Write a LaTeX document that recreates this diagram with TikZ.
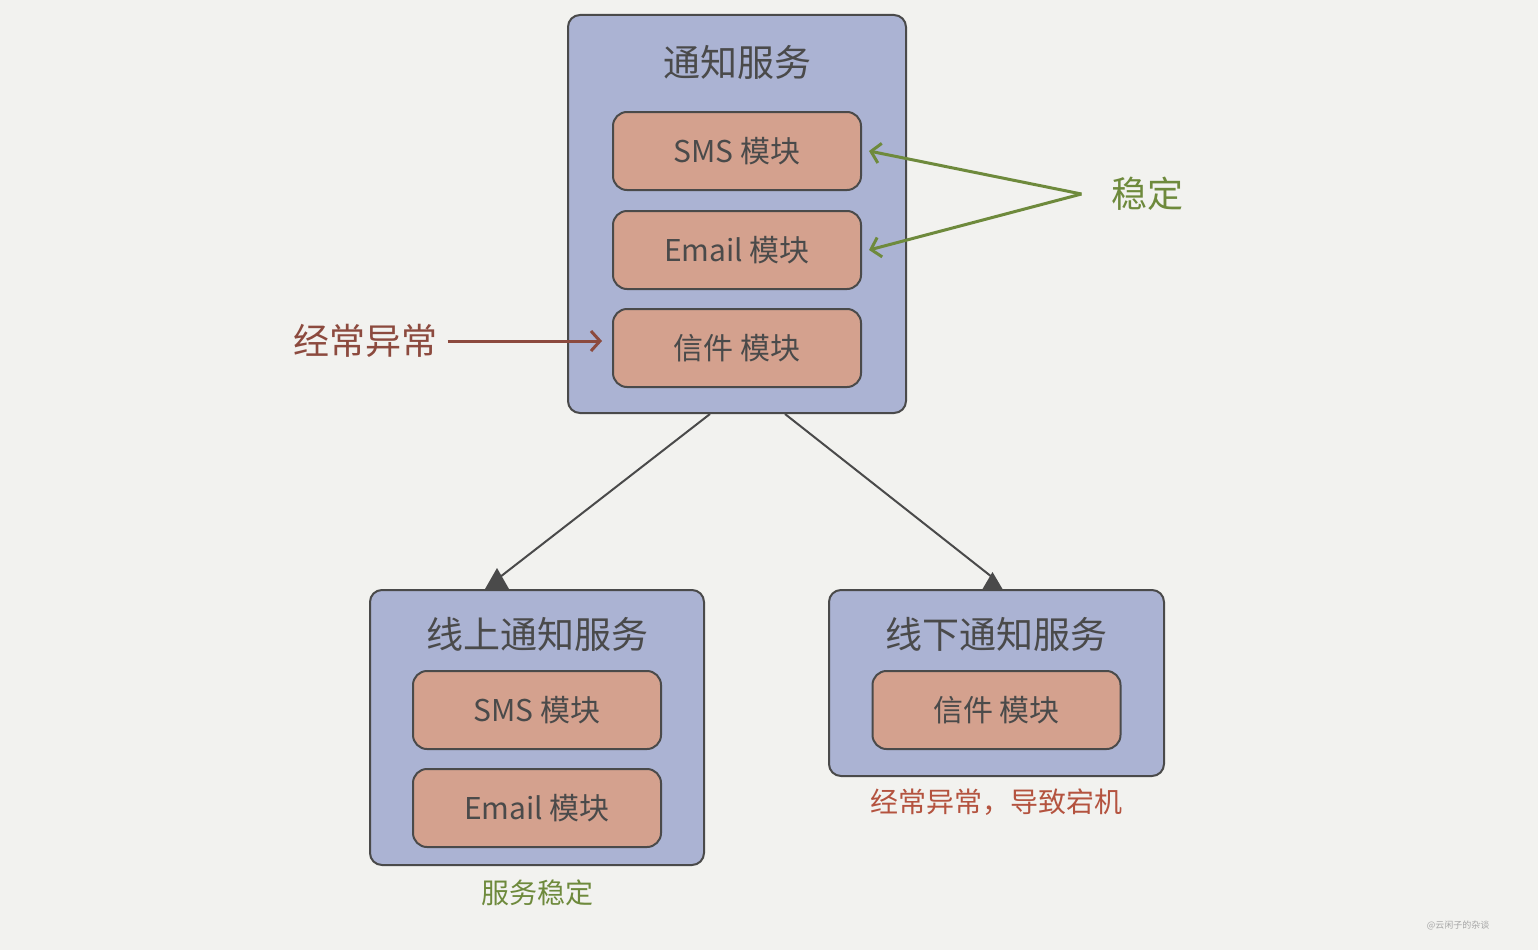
\documentclass[tikz,border=0pt]{standalone}
\usepackage{fontspec}
\setmainfont{Noto Sans CJK SC}
\usepackage{xcolor}
\usetikzlibrary{arrows.meta}
\definecolor{paper}{HTML}{F2F2EF}
\definecolor{svcblue}{HTML}{ABB3D3}
\definecolor{modsalmon}{HTML}{D4A18E}
\definecolor{inkgray}{HTML}{4A4A4A}
\definecolor{okgreen}{HTML}{6E8A3C}
\definecolor{errred}{HTML}{8C4A3E}
\definecolor{downred}{HTML}{B4533F}

\begin{document}
\begin{tikzpicture}[x=1pt,y=-1pt,
svc/.style n args={2}{draw=inkgray,line width=2pt,fill=svcblue,rounded corners=12pt,minimum width=#1pt,minimum height=#2pt,inner sep=0pt},
mod/.style={draw=inkgray,line width=2pt,fill=modsalmon,rounded corners=14pt,minimum width=248pt,minimum height=78pt,inner sep=0pt,text=inkgray,font=\fontsize{30}{36}\selectfont},
ttl/.style={text=inkgray,font=\fontsize{37}{44}\selectfont},
note/.style={text=#1,font=\fontsize{28}{34}\selectfont},
link/.style={draw=inkgray,line width=2pt},
cone/.style={fill=inkgray},
okarrow/.style={draw=okgreen,line width=3pt,-{Straight Barb[length=9pt,width=20pt]}},
errarrow/.style={draw=errred,line width=3pt,-{Straight Barb[length=9pt,width=20pt]}}]
\fill[paper] (0,0) rectangle (1538,950);
% top service
\node[svc={338}{398}] (notify) at (737,214) {};
\node[ttl] (notifyT) at (737,62) {通知服务};
\foreach \y/\n/\t in %
{151/sms/SMS 模块,250/email/Email 模块,348/letter/信件 模块} {
   \node[mod] (\n) at (737,\y) {\t};
}
% bottom services
\node[svc={334}{275}] (online) at (537,727.5) {};
\node[ttl] (onlineT) at (537,634) {线上通知服务};
\node[mod] (onsms) at (537,710) {SMS 模块};
\node[mod] (onemail) at (537,808) {Email 模块};
\node[svc={335}{186}] (offline) at (996.5,683) {};
\node[ttl] (offlineT) at (996.5,634) {线下通知服务};
\node[mod] (offletter) at (996.5,710) {信件 模块};
% labels
\node[note=okgreen,font=\fontsize{36}{42}\selectfont] (stable) at (1147,194) {稳定};
\node[note=errred,font=\fontsize{36}{42}\selectfont] (often) at (365,341) {经常异常};
\node[note=okgreen] (onok) at (537,893) {服务稳定};
\node[note=downred] (offdown) at (996.5,802) {经常异常，导致宕机};
\node[text=gray!70,font=\fontsize{9}{10}\selectfont] (mark) at (1458,925) {@云闲子的杂谈};
% connectors
\draw[link] ([xshift=-27pt]notify.south) -- ([xshift=-37pt,yshift=12pt]online.north);
\fill[cone] ([xshift=-52pt]online.north) -- ++(12,-21) -- ++(12,21) -- cycle;
\draw[link] ([xshift=48pt]notify.south) -- ([xshift=-2pt,yshift=10pt]offline.north);
\fill[cone] ([xshift=-14pt]offline.north) -- ++(10,-17) -- ++(10,17) -- cycle;
\draw[okarrow] ([xshift=-26pt]stable.west) -- ([xshift=7pt]sms.east);
\draw[okarrow] ([xshift=-26pt]stable.west) -- ([xshift=7pt]email.east);
\draw[errarrow] ([xshift=7pt]often.east) -- ([xshift=-10pt]letter.west |- often.east);
\end{tikzpicture}
\end{document}
